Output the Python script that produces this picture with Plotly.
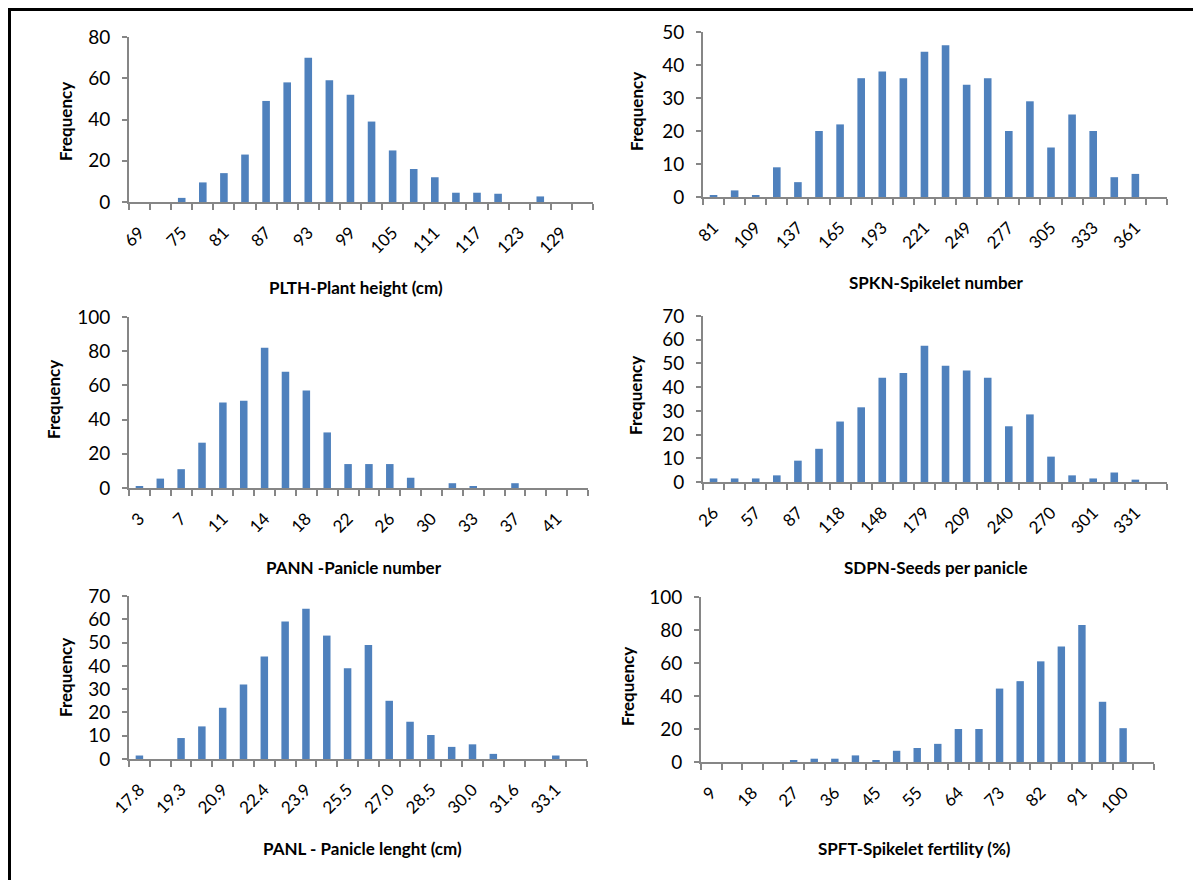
import plotly.graph_objects as go

W, H = 1193, 880

# ---------------- data ----------------
plth_bins = ["69", "72", "75", "78", "81", "84", "87", "90", "93", "96", "99", "102",
             "105", "108", "111", "114", "117", "120", "123", "126", "129", "132"]
plth_freq = [0, 0, 2, 9.5, 14, 23, 49, 58, 70, 59, 52, 39, 25, 16, 12, 4.5, 4.5, 4, 0, 2.7, 0, 0]

spkn_bins = ["81", "95", "109", "123", "137", "151", "165", "179", "193", "207", "221", "235",
             "249", "263", "277", "291", "305", "319", "333", "347", "361", "375"]
spkn_freq = [0.5, 2, 0.5, 9, 4.5, 20, 22, 36, 38, 36, 44, 46, 34, 36, 20, 29, 15, 25, 20, 6, 7, 0]

pann_bins = ["3", "5", "7", "9", "11", "12", "14", "16", "18", "20", "22", "24",
             "26", "28", "30", "31", "33", "35", "37", "39", "41", "43"]
pann_freq = [1, 5.5, 11, 26.5, 50, 51, 82, 68, 57, 32.5, 14, 14, 14, 6, 0, 2.8, 1, 0, 2.8, 0, 0, 0]

sdpn_bins = ["26", "41", "57", "72", "87", "103", "118", "133", "148", "164", "179", "194",
             "209", "225", "240", "255", "270", "286", "301", "316", "331", "347"]
sdpn_freq = [1.5, 1.5, 1.5, 2.8, 9, 14, 25.5, 31.5, 44, 46, 57.5, 49, 47, 44, 23.5, 28.5,
             10.7, 2.8, 1.5, 4, 1, 0]

panl_bins = ["17.8", "18.6", "19.3", "20.1", "20.9", "21.6", "22.4", "23.2", "23.9", "24.7", "25.5",
             "26.2", "27.0", "27.7", "28.5", "29.3", "30.0", "30.8", "31.6", "32.3", "33.1", "33.9"]
panl_freq = [1.5, 0, 9, 14, 22, 32, 44, 59, 64.5, 53, 39, 49, 25, 16, 10.3, 5.2, 6.3, 2.2, 0, 0, 1.5, 0]

spft_bins = ["9", "14", "18", "23", "27", "32", "36", "41", "45", "50", "55", "59",
             "64", "68", "73", "77", "82", "86", "91", "95", "100", "105"]
spft_freq = [0, 0, 0, 0, 1, 2, 2, 4, 1, 6.8, 8.5, 11, 20, 20, 44.5, 49, 61, 70, 83, 36.5, 20.5, 0]

titles = ["PLTH-Plant height (cm)", "SPKN-Spikelet number", "PANN -Panicle number",
          "SDPN-Seeds per panicle", "PANL - Panicle lenght (cm)", "SPFT-Spikelet fertility (%)"]
y_max = [80, 50, 100, 70, 70, 100]
y_step = [20, 10, 20, 10, 10, 20]

panels = [(plth_bins, plth_freq), (spkn_bins, spkn_freq), (pann_bins, pann_freq),
          (sdpn_bins, sdpn_freq), (panl_bins, panl_freq), (spft_bins, spft_freq)]

# ---------------- layout (pixels) ----------------
boxes = [(129, 593, 37, 202), (703, 1167, 32, 197),
         (129, 588, 317, 488), (703, 1167, 316, 482),
         (129, 587, 596, 759), (701, 1154, 597, 762)]
freq_pos = [(65, 122), (637, 112), (53, 400), (636, 396), (65, 678), (627, 687)]
title_pos = [(356, 287), (936, 282), (354, 567), (935, 567), (362, 848), (914, 848)]

BLUE = "#4F81BD"
GRAY = "#868686"
FONT = "Lato"

def px(x):
    return x / W

def py(y):
    return 1 - y / H

fig = go.Figure()
layout = dict(width=W, height=H, margin=dict(l=0, r=0, t=0, b=0, autoexpand=False),
              paper_bgcolor="white", plot_bgcolor="white", showlegend=False,
              bargap=0.64, font=dict(family=FONT, color="black"))
annotations = []

for i, ((cats, vals), (x0, x1, yt, yb)) in enumerate(zip(panels, boxes)):
    n = i + 1
    xa = "x" if n == 1 else f"x{n}"
    ya = "y" if n == 1 else f"y{n}"
    fig.add_trace(go.Bar(x=cats, y=vals, xaxis=xa, yaxis=ya, marker_color=BLUE,
                         marker_line=dict(width=0)))
    ticktext = [c if k % 2 == 0 else "" for k, c in enumerate(cats)]
    layout["xaxis" if n == 1 else f"xaxis{n}"] = dict(
        domain=[px(x0), px(x1)], anchor=ya, type="category",
        categoryorder="array", categoryarray=cats,
        range=[-0.5, len(cats) - 0.5], automargin=False,
        tickmode="array", tickvals=cats, ticktext=ticktext, tickson="boundaries",
        ticks="outside", ticklen=6, tickwidth=2, tickcolor=GRAY,
        showline=True, linecolor=GRAY, linewidth=2, showgrid=False, zeroline=False,
        tickangle=-45, tickfont=dict(family=FONT, size=17, color="black"),
        ticklabelstandoff=12, fixedrange=True)
    layout["yaxis" if n == 1 else f"yaxis{n}"] = dict(
        domain=[py(yb), py(yt)], anchor=xa, range=[0, y_max[i]], dtick=y_step[i],
        tick0=0, ticks="outside", ticklen=5, tickwidth=2, tickcolor=GRAY, automargin=False,
        showline=True, linecolor=GRAY, linewidth=2, showgrid=False, zeroline=False,
        tickfont=dict(family=FONT, size=19, color="black"), ticklabelstandoff=8,
        fixedrange=True)
    fx, fy = freq_pos[i]
    annotations.append(dict(text="<b>Frequency</b>", x=px(fx), y=py(fy), xref="paper",
                            yref="paper", showarrow=False, textangle=-90,
                            font=dict(family=FONT, size=17, color="black"),
                            xanchor="center", yanchor="middle"))
    tx, ty = title_pos[i]
    annotations.append(dict(text=f"<b>{titles[i]}</b>", x=px(tx), y=py(ty), xref="paper",
                            yref="paper", showarrow=False,
                            font=dict(family=FONT, size=17, color="black"),
                            xanchor="center", yanchor="middle"))

layout["annotations"] = annotations
layout["shapes"] = [dict(type="rect", xref="paper", yref="paper",
                         x0=px(9.5), x1=px(1210), y0=py(900), y1=py(9.5),
                         line=dict(color="black", width=3), fillcolor="rgba(0,0,0,0)")]
fig.update_layout(**layout)
fig.write_html("out.html")
